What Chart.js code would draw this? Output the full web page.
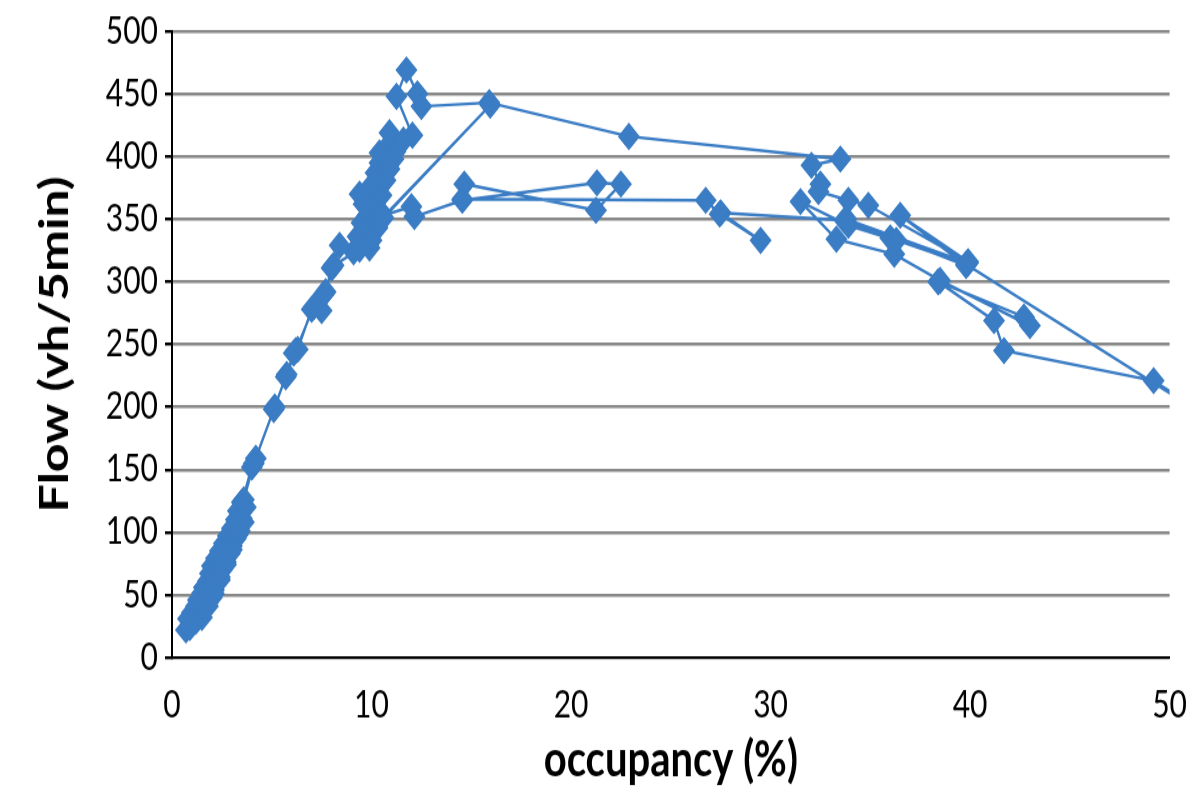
<!DOCTYPE html>
<html>
<head>
<meta charset="utf-8">
<script src="https://cdn.jsdelivr.net/npm/chart.js@4/dist/chart.umd.min.js"></script>
<style>
  html, body { margin: 0; padding: 0; background: #fff; }
  #page { width: 1199px; height: 788px; overflow: hidden; position: relative; }
  /* chart drawn a bit shorter, then stretched to the full height */
  #wrap { width: 1199px; height: 630px; transform: scaleY(1.25); transform-origin: 0 0; }
</style>
</head>
<body>
<div id="page">
  <div id="wrap"><canvas id="chart" width="1199" height="630"></canvas></div>
</div>
<script>
// occupancy (%) and flow (vh/5min), in time order
const occupancy = [
  0.7, 1.0, 0.8, 1.2, 1.0, 1.4, 1.2, 1.6, 1.3, 1.8, 1.5, 2.0, 1.6, 2.1, 1.8, 2.2, 1.9, 2.4, 2.0, 2.5,
  2.2, 2.7, 2.4, 2.9, 2.6, 3.0, 2.8, 3.2, 3.0, 3.4, 3.2, 3.6, 3.4, 3.7, 3.5, 4.0, 4.2, 5.1, 5.7, 6.1,
  6.3, 7.0, 7.5, 7.7, 8.0, 8.4,
  9.1, 9.9, 9.3, 9.7, 10.0, 9.5, 10.3, 9.8, 10.4, 9.6, 10.1, 9.4, 10.5, 10.0, 10.7, 10.2, 10.9, 10.4, 11.1, 10.4,
  10.8, 11.2, 10.9, 11.6, 12.05, 11.25, 11.75, 12.3, 12.5,
  15.9, 22.9, 33.5, 32.05, 32.5, 32.4, 33.9, 34.9, 39.9, 36.5, 39.8, 33.8, 39.9, 36.0, 39.8, 53.0, 49.2, 41.7,
  41.2, 38.4, 42.7, 43.0, 38.5, 36.2, 33.3, 31.5, 33.9, 36.3, 33.7, 27.5, 29.5, 27.45, 26.75, 14.55, 14.65, 21.25,
  22.5, 21.3, 14.55, 12.15, 12.0, 10.4, 10.3, 15.95, 10.6,
  10.0, 9.4, 8.1, 7.6, 7.1, 6.2, 5.75, 5.15, 4.1, 3.6, 3.3, 3.5, 3.1, 3.3, 2.9, 3.0, 2.6, 2.7, 2.3, 2.4,
  2.0, 2.1, 1.7, 1.8, 1.4, 1.5, 1.1, 0.9
];
const flow = [
  22, 27, 31, 29, 36, 34, 41, 39, 46, 44, 51, 48, 56, 54, 61, 59, 67, 64, 73, 70,
  79, 76, 85, 83, 91, 89, 97, 95, 103, 101, 110, 108, 116, 120, 124, 152, 159, 198, 224, 243,
  246, 278, 277, 292, 311, 329,
  324, 327, 336, 332, 340, 347, 343, 353, 357, 362, 367, 370, 369, 377, 381, 387, 390, 395, 398, 403,
  408, 404, 419, 413, 417, 448, 469, 450, 440,
  443, 416, 398, 393, 378, 372, 365, 361, 316, 353, 313, 350, 315, 335, 314, 181, 221, 245,
  269, 300, 272, 265, 301, 322, 334, 364, 345, 333, 349, 355, 333, 354, 365, 366, 378, 357,
  378, 379, 365, 352, 360, 352, 347, 441, 351,
  333, 326, 313, 290, 280, 245, 226, 200, 155, 126, 117, 111, 104, 98, 92, 86, 80, 74, 68, 62,
  57, 51, 47, 41, 38, 32, 30, 24
];

const xMin = 0, xMax = 50, xStep = 10;
const yMin = 0, yMax = 500, yStep = 50;

const points = occupancy.map((x, i) => ({ x: x, y: flow[i] }));
const blue = '#3b7dc4';

const ctx = document.getElementById('chart').getContext('2d');
new Chart(ctx, {
  type: 'scatter',
  data: {
    datasets: [{
      data: points,
      showLine: true,
      borderColor: blue,
      backgroundColor: blue,
      borderWidth: 2.4,
      pointStyle: 'rectRot',
      pointRadius: 10,
      pointBorderWidth: 1.5,
      pointBorderColor: blue,
      pointBackgroundColor: blue,
      tension: 0
    }]
  },
  options: {
    responsive: false,
    animation: false,
    devicePixelRatio: 1,
    layout: { padding: { top: 22, right: 27, left: 0, bottom: 0 } },
    plugins: {
      legend: { display: false },
      tooltip: { enabled: false }
    },
    scales: {
      x: {
        type: 'linear',
        min: xMin,
        max: xMax,
        ticks: {
          stepSize: xStep,
          color: '#000',
          font: { family: 'Lato', size: 30 },
          padding: 12,
          maxRotation: 0
        },
        grid: { display: false },
        border: { color: '#000', width: 2 },
        title: {
          display: true,
          text: 'occupancy (%)',
          color: '#000',
          font: { family: 'Lato', size: 40, weight: 'bold', lineHeight: 1 },
          padding: { top: 0, bottom: 2 }
        },
        afterFit: function(scale) { scale.height = 104; }
      },
      y: {
        min: yMin,
        max: yMax,
        ticks: {
          stepSize: yStep,
          color: '#000',
          font: { family: 'Lato', size: 30 },
          padding: 7
        },
        grid: {
          color: '#888888',
          lineWidth: 2.4,
          tickColor: '#000',
          tickLength: 7
        },
        border: { color: '#000', width: 2 },
        title: {
          display: true,
          text: 'Flow (vh/5min)',
          color: '#000',
          font: { family: 'Lato', size: 40, weight: 'bold', lineHeight: 1 },
          padding: { top: 35, bottom: 0 }
        },
        afterFit: function(scale) { scale.width = 172; }
      }
    }
  }
});
</script>
</body>
</html>
